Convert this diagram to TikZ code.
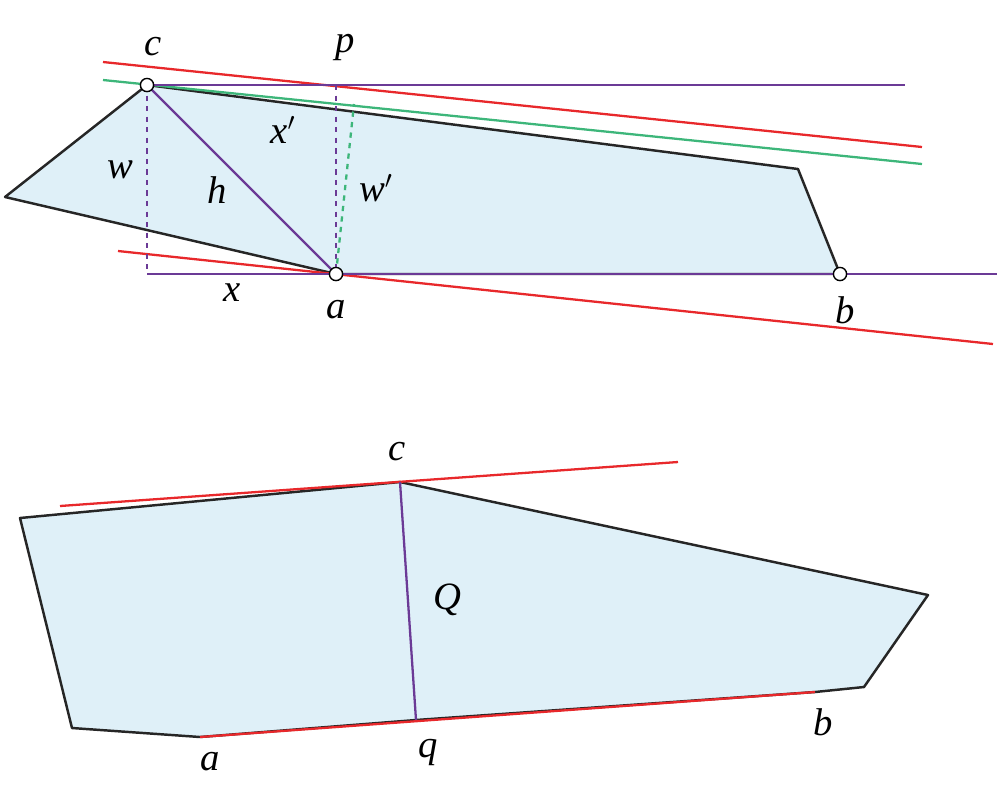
\documentclass[tikz,border=0pt]{standalone}
\usepackage{fontspec}
\setmainfont{Liberation Serif}
\usetikzlibrary{positioning}
\definecolor{fillblue}{HTML}{DFF0F8}
\definecolor{redline}{HTML}{E8282B}
\definecolor{purpleline}{HTML}{6B3A96}
\definecolor{greenline}{HTML}{3DB67A}
\begin{document}
\begin{tikzpicture}[
        x=0.02cm, y=-0.02cm,
        poly/.style={draw=black!85, line width=1.4pt, fill=fillblue, line join=round},
        redl/.style={draw=redline, line width=1.3pt},
        purl/.style={draw=purpleline, line width=1.3pt},
        grnl/.style={draw=greenline, line width=1.3pt},
        vtx/.style={circle, draw, line width=0.8pt, fill=white, inner sep=0pt, minimum size=7.5pt},
        lbl/.style={font=\itshape\fontsize{22}{26}\selectfont, inner sep=1pt}
    ]
    \useasboundingbox (0,0) rectangle (1000,796);

    % Top picture
    \coordinate (c) at (147,85);
    \coordinate (a) at (336,274);
    \coordinate (b) at (840,274);
    \coordinate (p) at (336,85);
    \coordinate (wq) at (354,104);
    \coordinate (foot) at (147,274);
    \filldraw[poly] (5,197) -- (c) -- (798,169) -- (b) -- (a) -- cycle;
    \coordinate (r1) at (103,62);   \coordinate (r2) at (922,147);
    \coordinate (g1) at (103,80);   \coordinate (g2) at (922,164);
    \coordinate (r3) at (118,251);  \coordinate (r4) at (993,344);
    \coordinate (h1) at (905,85);   \coordinate (h2) at (997,274);
    \draw[redl] (r1) -- (r2);
    \draw[grnl] (g1) -- (g2);
    \draw[redl] (r3) -- (r4);
    \draw[purl] (c) -- (h1);
    \draw[purl] (foot) -- (h2);
    \draw[purl] (c) -- (a);
    \draw[purl, dashed] (c) -- (foot);
    \draw[purl, dashed] (p) -- (a);
    \draw[grnl, dashed] (a) -- (wq);
    \node[vtx] at (c) {};
    \node[vtx] at (a) {};
    \node[vtx] at (b) {};
    \node[lbl] (lc) at (153,47) {c};
    \node[lbl] (lp) at (345,47) {p};
    \node[lbl] (lx') at (283,130) {x$'$};
    \node[lbl] (lw) at (120,170) {w};
    \node[lbl] (lh) at (217,190) {h};
    \node[lbl] (lw') at (376,188) {w$'$};
    \node[lbl] (lx) at (232,293) {x};
    \node[lbl] (la) at (336,310) {a};
    \node[lbl] (lb) at (845,310) {b};

    % Bottom picture
    \coordinate (C) at (400,482);
    \coordinate (Q) at (416,720);
    \coordinate (A) at (200,737);
    \coordinate (B) at (815,692);
    \filldraw[poly] (20,518) -- (C) -- (928,595) -- (864,687) -- (B) -- (Q) -- (A) -- (72,728) -- cycle;
    \coordinate (t1) at (60,506);  \coordinate (t2) at (678,462);
    \draw[redl] (t1) -- (t2);
    \draw[redl] (A) -- (B);
    \draw[purl] (C) -- (Q);
    \node[lbl] (lC) at (397,452) {c};
    \node[lbl] (lQ) at (447,600) {Q};
    \node[lbl] (lA) at (210,762) {a};
    \node[lbl] (lq) at (428,752) {q};
    \node[lbl] (lB) at (823,722) {b};
\end{tikzpicture}
\end{document}
